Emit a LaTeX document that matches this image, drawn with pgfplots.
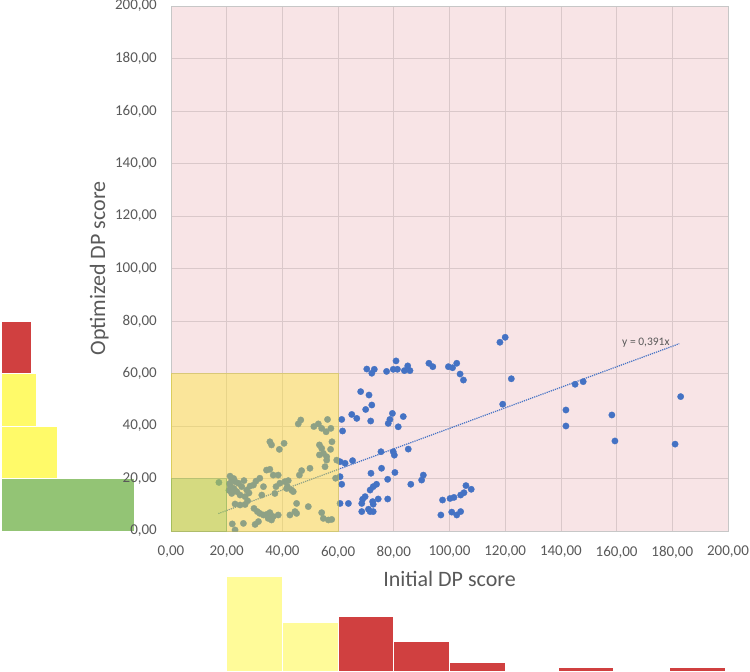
\documentclass[border=0pt]{standalone}
\usepackage{pgfplots}
\usepackage{pgfplotstable}
\pgfplotsset{compat=1.18}
\usepackage{fontspec}
\setmainfont{Carlito}
\definecolor{pinkbg}{RGB}{248,228,230}
\definecolor{gridc}{RGB}{218,200,202}
\definecolor{txt}{RGB}{89,89,89}
\definecolor{dotblue}{RGB}{68,114,196}
\definecolor{ovyellow}{RGB}{255,232,40}
\definecolor{ovgreen}{RGB}{146,200,80}
\definecolor{histgreen}{RGB}{147,196,117}
\definecolor{histyellowL}{RGB}{255,250,105}
\definecolor{histyellowB}{RGB}{255,251,153}
\definecolor{histred}{RGB}{208,64,64}

\pgfplotstableread{
x y
17.2 18.5
21.2 20.9
21.8 19.4
23.0 18.8
24.2 18.2
21.4 16.9
22.6 16.2
25.4 16.9
26.2 19.2
27.2 15.6
28.4 17.1
29.6 17.5
21.8 14.3
23.6 15.0
24.8 13.7
26.6 13.1
23.0 10.3
24.8 9.9
26.6 10.1
22.0 2.7
26.0 2.9
30.2 2.5
31.4 3.6
29.8 8.6
31.0 7.4
31.9 6.7
33.2 6.1
34.3 6.3
35.5 7.0
36.7 5.5
38.5 6.1
34.9 4.8
36.1 4.2
31.9 20.1
33.2 16.9
34.3 23.2
35.5 23.5
36.7 21.3
38.5 21.3
37.7 16.9
39.1 18.2
40.9 18.8
42.1 19.2
43.3 15.6
41.8 16.9
35.5 34.0
36.1 32.8
38.9 31.1
40.6 33.4
45.7 40.8
46.6 42.3
51.3 39.8
52.9 40.8
54.1 39.1
55.7 37.8
56.2 42.5
57.4 39.1
57.8 34.0
57.3 31.1
53.3 32.8
54.1 31.5
54.7 29.6
55.9 28.3
53.3 29.0
55.9 27.0
55.3 24.5
59.5 27.0
46.9 23.0
49.9 23.9
46.1 21.3
45.1 10.5
44.5 7.4
42.7 6.1
45.1 6.7
49.3 9.3
54.1 7.0
54.7 4.8
56.5 4.2
57.7 4.4
32.6 13.7
37.3 14.3
41.5 16.2
43.9 15.0
23.0 0.4
59.1 20.1
21.0 18.0
22.5 20.0
20.8 15.5
28.0 14.5
30.5 19.0
27.5 11.5
118.1 71.9
120.0 73.8
122.2 58.0
119.1 48.3
70.3 61.7
72.1 60.1
73.0 61.6
77.4 60.8
79.8 61.6
80.8 64.8
81.3 61.6
83.8 61.1
85.0 62.9
85.8 61.1
92.6 63.9
94.0 62.6
99.6 62.6
101.1 62.2
102.6 63.9
103.8 59.8
105.0 57.5
68.1 53.1
71.1 51.8
72.1 48.0
69.9 46.3
64.9 44.4
66.7 42.9
61.3 42.5
61.6 38.1
71.7 41.9
79.5 44.8
78.6 42.5
78.0 41.0
81.6 39.7
83.4 43.6
75.4 30.2
79.8 30.2
80.2 28.9
85.2 31.2
60.7 26.4
62.5 25.8
65.2 26.8
60.7 20.7
61.3 17.8
71.8 22.0
75.6 23.9
77.8 19.7
80.4 22.3
90.0 19.4
90.6 21.3
86.1 17.8
71.5 15.6
72.6 16.9
73.8 17.8
68.8 12.1
69.7 13.1
68.5 10.5
60.7 10.5
63.7 10.5
72.4 11.2
72.6 10.2
74.4 12.2
77.8 12.2
68.5 7.4
70.9 8.3
71.5 7.4
72.6 7.4
97.5 11.8
100.2 12.4
101.6 12.8
104.0 13.7
105.2 14.6
105.9 17.3
107.8 15.9
96.9 6.1
100.8 7.2
102.6 6.1
104.0 7.4
145.1 55.9
148.0 56.9
141.8 46.1
141.8 40.0
158.3 44.2
159.4 34.3
181.0 33.1
183.0 51.2
}\scatterdata

\begin{document}
\begin{tikzpicture}
\path[use as bounding box] (0,0) rectangle (750pt,-672pt);

% left histogram (Optimized DP score)
\begin{axis}[at={(1pt,-531pt)}, anchor=south west, scale only axis,
  width=170pt, height=525pt, xmin=0, xmax=170, ymin=0, ymax=200, hide axis, clip=false]
\addplot[xbar interval, fill=histgreen, draw=white, line width=0.8pt] coordinates {(133,0) (133,20)};
\addplot[xbar interval, fill=histyellowL, draw=white, line width=0.8pt] coordinates {(56,20) (56,40)};
\addplot[xbar interval, fill=histyellowL, draw=white, line width=0.8pt] coordinates {(35,40) (35,60)};
\addplot[xbar interval, fill=histred, draw=white, line width=0.8pt] coordinates {(30,60) (30,80)};
\end{axis}

% main scatter
\begin{axis}[at={(171pt,-531pt)}, anchor=south west, scale only axis,
  width=557pt, height=525pt,
  xmin=0, xmax=200, ymin=0, ymax=200,
  xtick={0,20,...,200}, ytick={0,20,...,200},
  grid=major, major grid style={gridc, line width=0.8pt},
  axis background/.style={fill=pinkbg},
  axis line style={draw=black!22, line width=0.8pt},
  major tick length=0pt,
  clip marker paths=true,
  tick label style={font=\fontsize{15}{18}\selectfont, text=txt, inner sep=0pt},
  x tick label style={yshift=-15pt},
  y tick label style={xshift=-14pt},
  /pgf/number format/use comma,
  /pgf/number format/fixed,
  /pgf/number format/fixed zerofill,
  /pgf/number format/precision=2,
  /pgf/number format/assume math mode=true,
  xlabel={Initial DP score}, ylabel={Optimized DP score},
  label style={font=\fontsize{22}{26}\selectfont, text=txt},
  xlabel style={at={(axis description cs:0.5,-0.0905)}, anchor=center},
  ylabel style={at={(axis description cs:-0.129,0.5)}, anchor=center},
]
\addplot[only marks, color=dotblue, mark=*, mark size=3.2pt, mark options={fill=dotblue, draw=dotblue, line width=0.3pt, solid}] table[x=x, y=y] {\scatterdata};
\addplot[densely dotted, dotblue, line width=1.2pt] coordinates {(17,6.65) (182.5,71.36)};
\addplot[fill=ovyellow, fill opacity=0.4, draw=ovyellow!70!gray, draw opacity=0.6, line width=0.8pt]
  coordinates {(0,0) (60,0) (60,60) (0,60)} -- cycle;
\addplot[fill=ovgreen, fill opacity=0.35, draw=ovgreen!70!gray, draw opacity=0.5, line width=0.8pt]
  coordinates {(0,0) (20,0) (20,20) (0,20)} -- cycle;
\node[text=txt, font=\fontsize{11.5}{13}\selectfont] at (axis cs:170.5,71.6) {y = 0,391x};
\end{axis}

% bottom histogram (Initial DP score)
\begin{axis}[at={(171pt,-671pt)}, anchor=south west, scale only axis,
  width=557pt, height=95pt, xmin=0, xmax=200, ymin=0, ymax=95, hide axis, clip=false]
\addplot[ybar interval, fill=histyellowB, draw=white, line width=0.8pt] coordinates {(20,95) (40,95)};
\addplot[ybar interval, fill=histyellowB, draw=white, line width=0.8pt] coordinates {(40,49) (60,49)};
\addplot[ybar interval, fill=histred, draw=white, line width=0.8pt] coordinates {(60,54.5) (80,54.5)};
\addplot[ybar interval, fill=histred, draw=white, line width=0.8pt] coordinates {(80,29.5) (100,29.5)};
\addplot[ybar interval, fill=histred, draw=white, line width=0.8pt] coordinates {(100,9) (120,9)};
\addplot[ybar interval, fill=histred, draw=white, line width=0.8pt] coordinates {(139,3.5) (159,3.5)};
\addplot[ybar interval, fill=histred, draw=white, line width=0.8pt] coordinates {(179,3.5) (199,3.5)};
\end{axis}
\end{tikzpicture}
\end{document}
